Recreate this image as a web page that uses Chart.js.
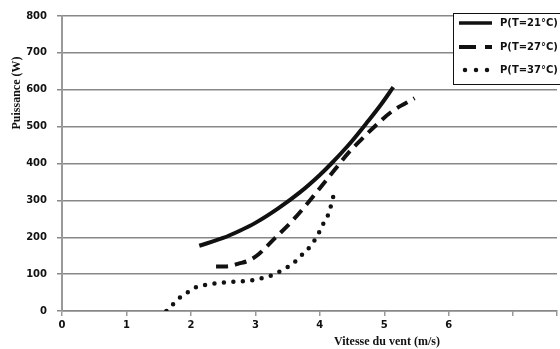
<!DOCTYPE html>
<html>
<head>
<meta charset="utf-8">
<script src="https://cdn.jsdelivr.net/npm/chart.js@4"></script>
<style>
  html, body { margin: 0; padding: 0; background: #fff; }
  #wrap { width: 560px; height: 349px; position: relative; }
</style>
</head>
<body>
<div id="wrap"><canvas id="myChart" width="560" height="349"></canvas></div>
<script>
// series (wind speed m/s, power W)
const labels21 = "P(T=21°C)";
const labels27 = "P(T=27°C)";
const labels37 = "P(T=37°C)";

const x21 = [2.13, 2.5, 2.75, 3.0, 3.36, 3.7, 4.0, 4.18, 4.49, 4.75, 4.95, 5.14];
const y21 = [177, 198, 217, 239, 279, 323, 369, 400, 459, 515, 560, 607];

const x27 = [2.39, 2.55, 2.75, 2.9, 3.05, 3.3, 3.57, 3.8, 4.0, 4.24, 4.44, 4.65, 4.88, 5.11, 5.47];
const y27 = [121, 121, 129, 137, 154, 197, 244, 290, 333, 385, 428, 466, 505, 540, 577];

const x37 = [1.62, 1.71, 1.82, 1.93, 2.05, 2.2, 2.39, 2.56, 2.75, 2.93, 3.1, 3.26, 3.41, 3.6, 3.72, 3.86, 3.98, 4.06, 4.14, 4.21];
const y37 = [0, 16, 35, 48, 62, 70, 75, 78, 80, 83, 89, 97, 110, 131, 152, 177, 210, 239, 266, 311];

const xTicksShown = [0, 1, 2, 3, 4, 5, 6];

const toPoints = (xs, ys) => xs.map((x, i) => ({ x: x, y: ys[i] }));

// legend box and axis titles drawn by hand, like the picture
const legendBox = {
  id: "legendBox",
  afterDraw: (chart) => {
    const ctx = chart.ctx;
    ctx.save();
    ctx.fillStyle = "#fff";
    ctx.fillRect(453, 13, 110, 71);
    ctx.strokeStyle = "#111";
    ctx.lineWidth = 1;
    ctx.strokeRect(453.5, 13.5, 110, 71);

    const rows = [
      { y: 23, text: labels21, dash: [], cap: "butt", w: 3.5 },
      { y: 47, text: labels27, dash: [17, 9], cap: "butt", w: 4 },
      { y: 70, text: labels37, dash: [0, 11], cap: "round", w: 4.5 },
    ];
    rows.forEach((r) => {
      ctx.beginPath();
      ctx.setLineDash(r.dash);
      ctx.lineCap = r.cap;
      ctx.lineWidth = r.w;
      ctx.strokeStyle = "#111";
      if (r.cap === "round") {
        ctx.moveTo(465, r.y);
        ctx.lineTo(490, r.y);
      } else {
        ctx.moveTo(459, r.y);
        ctx.lineTo(492, r.y);
      }
      ctx.stroke();
      ctx.setLineDash([]);
      ctx.fillStyle = "#111";
      ctx.font = "bold 10px 'DejaVu Sans'";
      ctx.textAlign = "left";
      ctx.textBaseline = "middle";
      ctx.fillText(r.text, 500, r.y);
    });

    ctx.font = "bold 12px 'Liberation Serif'";
    ctx.textAlign = "center";
    ctx.textBaseline = "middle";
    ctx.fillText("Vitesse du vent (m/s)", 387, 342);
    ctx.translate(17, 93);
    ctx.rotate(-Math.PI / 2);
    ctx.fillText("Puissance (W)", 0, 0);
    ctx.restore();
  },
};

const ctx = document.getElementById("myChart");
new Chart(ctx, {
  type: "line",
  data: {
    datasets: [
      {
        label: labels21,
        data: toPoints(x21, y21),
        borderColor: "#111",
        borderWidth: 4,
        pointRadius: 0,
        cubicInterpolationMode: "monotone",
      },
      {
        label: labels27,
        data: toPoints(x27, y27),
        borderColor: "#111",
        borderWidth: 4,
        borderDash: [12, 7],
        pointRadius: 0,
        cubicInterpolationMode: "monotone",
      },
      {
        label: labels37,
        data: toPoints(x37, y37),
        borderColor: "#111",
        borderWidth: 4.5,
        borderDash: [0, 9.5],
        borderCapStyle: "round",
        pointRadius: 0,
        cubicInterpolationMode: "monotone",
      },
    ],
  },
  options: {
    responsive: false,
    animation: false,
    layout: { padding: { top: 13, right: 0, left: 0, bottom: 0 } },
    scales: {
      x: {
        type: "linear",
        min: 0,
        max: 7.68,
        afterFit: (scale) => {
          scale.height = 38;
        },
        ticks: {
          stepSize: 1,
          padding: 3,
          color: "#111",
          font: { family: "DejaVu Sans", size: 10, weight: "bold" },
          callback: (v) => (xTicksShown.includes(v) ? v : ""),
        },
        grid: {
          drawOnChartArea: false,
          drawTicks: true,
          tickLength: 5,
          color: "#999",
          lineWidth: 1.5,
        },
        border: { display: true, color: "#888", width: 1.5 },
      },
      y: {
        min: 0,
        max: 800,
        afterFit: (scale) => {
          scale.width = 62;
        },
        ticks: {
          stepSize: 100,
          padding: 10,
          color: "#111",
          font: { family: "DejaVu Sans", size: 10, weight: "bold" },
        },
        grid: {
          color: "#888",
          lineWidth: 1.5,
          tickLength: 5,
        },
        border: { display: true, color: "#999", width: 2 },
      },
    },
    plugins: {
      legend: { display: false },
      tooltip: { enabled: false },
    },
  },
  plugins: [legendBox],
});
</script>
</body>
</html>
